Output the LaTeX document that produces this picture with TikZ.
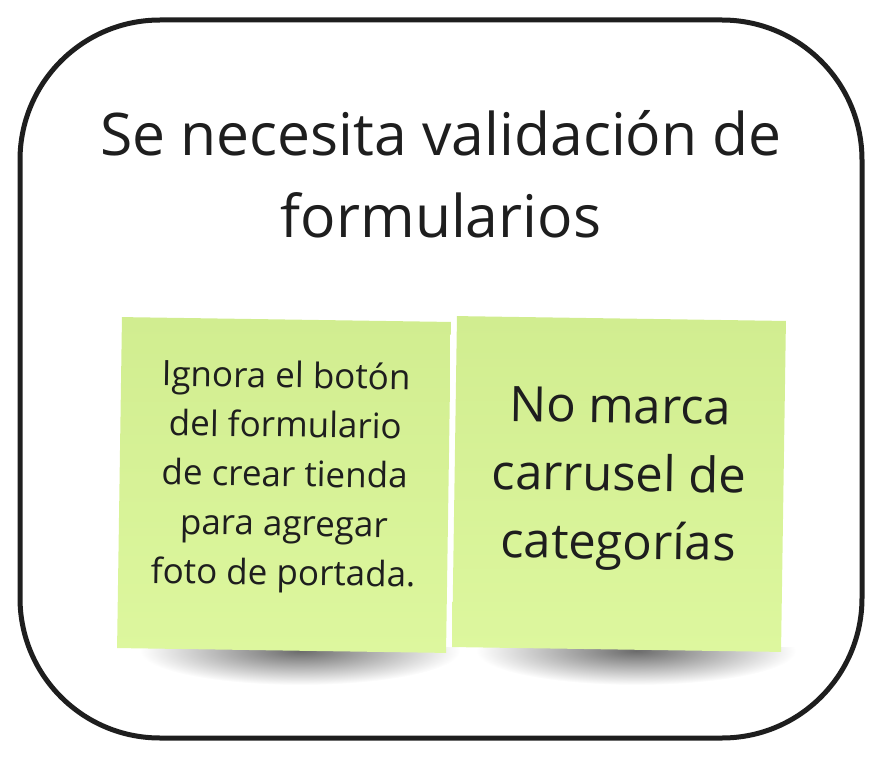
\documentclass[tikz,border=0pt]{standalone}
\usepackage{fontspec}
\setmainfont{Open Sans}
\definecolor{noteTop}{RGB}{209,237,144}
\definecolor{noteMid}{RGB}{217,245,152}
\definecolor{noteBot}{RGB}{221,247,158}
\definecolor{ink}{RGB}{30,30,30}
\begin{document}
\begin{tikzpicture}[x=1pt,y=-1pt,
  frame/.style={draw=ink,line width=5pt,rounded corners=140pt,minimum width=842pt,minimum height=718pt,inner sep=0pt},
  titletext/.style={text=ink,align=center,font=\fontsize{58.8}{82}\selectfont,inner sep=0pt},
  sticky/.style={minimum width=329pt,minimum height=331pt,top color=noteTop,middle color=noteMid,bottom color=noteBot,inner sep=0pt,rotate=-0.85},
  smalltext/.style={text=ink,align=center,font=\fontsize{35}{49.3}\selectfont,inner sep=0pt,rotate=-0.85},
  bigtext/.style={text=ink,align=center,font=\fontsize{49}{68}\selectfont,inner sep=0pt,rotate=-0.85},
  shadowfill/.style={inner color=black!58,outer color=white}]
\useasboundingbox (0,0) rectangle (884,762);
\node[frame] (frame) at (441,379) {};
\node[titletext,anchor=base] (title) at (441,238) {Se necesita validación de\\formularios};
\begin{scope}
  \clip (100,647) rectangle (800,712);
  \shade[shadowfill] (300,651) ellipse [x radius=160, y radius=34];
  \shade[shadowfill] (636,651) ellipse [x radius=160, y radius=34];
\end{scope}
\node[sticky] (n1) at (284,485) {};
\node[sticky] (n2) at (619,484) {};
\node[smalltext,anchor=base] (t1) at (283,585) {Ignora el botón\\del formulario\\de crear tienda\\para agregar\\foto de portada.};
\node[bigtext,anchor=base] (t2) at (618,559) {No marca\\carrusel de\\categorías};
\end{tikzpicture}
\end{document}
